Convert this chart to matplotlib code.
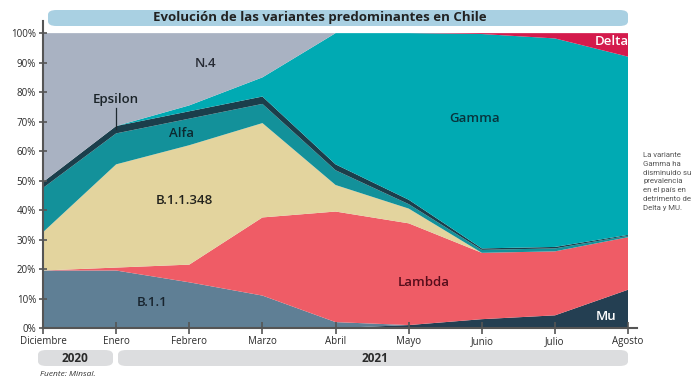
import matplotlib
matplotlib.use("Agg")
import matplotlib.pyplot as plt
from matplotlib.patches import FancyBboxPatch
import numpy as np

plt.rcParams['font.family'] = ['Open Sans', 'DejaVu Sans']

months = ["Diciembre", "Enero", "Febrero", "Marzo", "Abril", "Mayo", "Junio", "Julio", "Agosto"]
variants = ["Mu", "B.1.1", "Lambda", "B.1.1.348", "Alfa", "Epsilon", "Gamma", "Delta", "N.4"]
mu        = [0, 0, 0, 0, 0, 1, 3, 4.3, 13]
b11       = [19.5, 19.5, 15.5, 11, 2, 0, 0, 0, 0]
lambda_   = [0, 1, 6, 26.5, 37.5, 34.5, 22.5, 21.7, 17.8]
b11348    = [13, 35, 40.5, 32, 9, 5, 0, 0, 0]
alfa      = [15, 10.5, 9, 6.5, 5, 1.5, 1, 1, 0.5]
epsilon   = [2, 2.5, 2.5, 2.5, 2, 1.5, 0.5, 0.5, 0.3]
gamma     = [0, 0, 2, 6.5, 44.5, 56.5, 72.7, 70.7, 60.4]
delta     = [0, 0, 0, 0, 0, 0, 0.3, 1.8, 8]
n4        = [50.5, 31.5, 24.5, 15, 0, 0, 0, 0, 0]
yticks = [0, 10, 20, 30, 40, 50, 60, 70, 80, 90, 100]
years = ["2020", "2021"]
note_lines = ["La variante", "Gamma ha", "disminuido su", "prevalencia",
              "en el país en", "detrimento de", "Delta y MU."]

colors = ["#243f52", "#5f7f95", "#ef5c66", "#e3d49e", "#13919a", "#1b3e4b",
          "#00aab3", "#d41a4c", "#a9b2c2"]

fig = plt.figure(figsize=(7, 3.88), dpi=100)
ax = fig.add_axes([0.0614, 0.1546, 0.836, 0.760])
x = np.arange(len(months))
ax.stackplot(x, mu, b11, lambda_, b11348, alfa, epsilon, gamma, delta, n4,
             colors=colors, linewidth=0)
ax.set_xlim(0, len(months) - 1)
ax.set_ylim(0, 100)
ax.set_xticks(x)
ax.set_xticklabels(months, fontsize=7, color="#2a2a2a")
ax.set_yticks(yticks)
ax.set_yticklabels([f"{v}%" for v in yticks], fontsize=7, color="#2a2a2a")
ax.tick_params(axis='y', direction='inout', length=6, width=1.2, color="#555555", pad=2)
ax.tick_params(axis='x', direction='inout', length=8, width=1.2, color="#555555", pad=2)
for s in ['top', 'right']:
    ax.spines[s].set_visible(False)
for s in ['left', 'bottom']:
    ax.spines[s].set_color("#555555")
    ax.spines[s].set_linewidth(1.5)
ax.spines['bottom'].set_zorder(5)
# extend spines a little
ax.plot([0, 0], [100, 104], clip_on=False, color="#555555", lw=1.5)
ax.plot([8, 8.12], [0, 0], clip_on=False, color="#555555", lw=1.5)

# variant labels
lab = dict(fontsize=9.5, ha='center', va='center', fontweight='semibold')
ax.text(2.22, 89.8, "N.4", color="#262a33", **lab)
ax.text(0.99, 77.5, "Epsilon", color="#1a2328", **lab)
ax.plot([1.0, 1.0], [74.5, 67.5], color="#1f2a30", lw=0.9)
ax.text(1.9, 66, "Alfa", color="#0c2a30", **lab)
ax.text(1.93, 43.4, "B.1.1.348", color="#22221c", **lab)
ax.text(1.49, 8.5, "B.1.1", color="#18242e", **lab)
ax.text(5.2, 15.6, "Lambda", color="#560d1b", **lab)
ax.text(5.9, 71, "Gamma", color="#08343d", **lab)
ax.text(7.77, 97.2, "Delta", color="white", **lab)
ax.text(7.7, 4, "Mu", color="white", **lab)

# title bar
tb = FancyBboxPatch((48 / 700, 1 - 26 / 388), 580 / 700, 16 / 388,
                    boxstyle="round,pad=0,rounding_size=0.012",
                    transform=fig.transFigure, facecolor="#a9d0e2", edgecolor="none")
fig.patches.append(tb)
fig.text(320 / 700, 1 - 18 / 388, "Evolución de las variantes predominantes en Chile",
         fontsize=9.5, fontweight='bold', color="#222222", ha='center', va='center')

# year bars
yb1 = FancyBboxPatch((38 / 700, 1 - 366 / 388), 75 / 700, 16 / 388,
                     boxstyle="round,pad=0,rounding_size=0.012",
                     transform=fig.transFigure, facecolor="#dcdddf", edgecolor="none")
yb2 = FancyBboxPatch((118 / 700, 1 - 366 / 388), 510 / 700, 16 / 388,
                     boxstyle="round,pad=0,rounding_size=0.012",
                     transform=fig.transFigure, facecolor="#dcdddf", edgecolor="none")
fig.patches.append(yb1)
fig.patches.append(yb2)
fig.text(75 / 700, 1 - 358 / 388, years[0], fontsize=8.5, fontweight='bold',
         color="#2a2a2a", ha='center', va='center')
fig.text(375 / 700, 1 - 358 / 388, years[1], fontsize=8.5, fontweight='bold',
         color="#2a2a2a", ha='center', va='center')
fig.text(40 / 700, 1 - 375 / 388, "Fuente: Minsal.", fontsize=6, style='italic',
         color="#333333", ha='left', va='center')

for i, line in enumerate(note_lines):
    fig.text(643 / 700, 1 - (155 + 8.8 * i) / 388, line,
             fontsize=5.6, color="#555555", ha='left', va='center',
             family=['Roboto', 'DejaVu Sans'])

fig.savefig("out.png", dpi=100)
